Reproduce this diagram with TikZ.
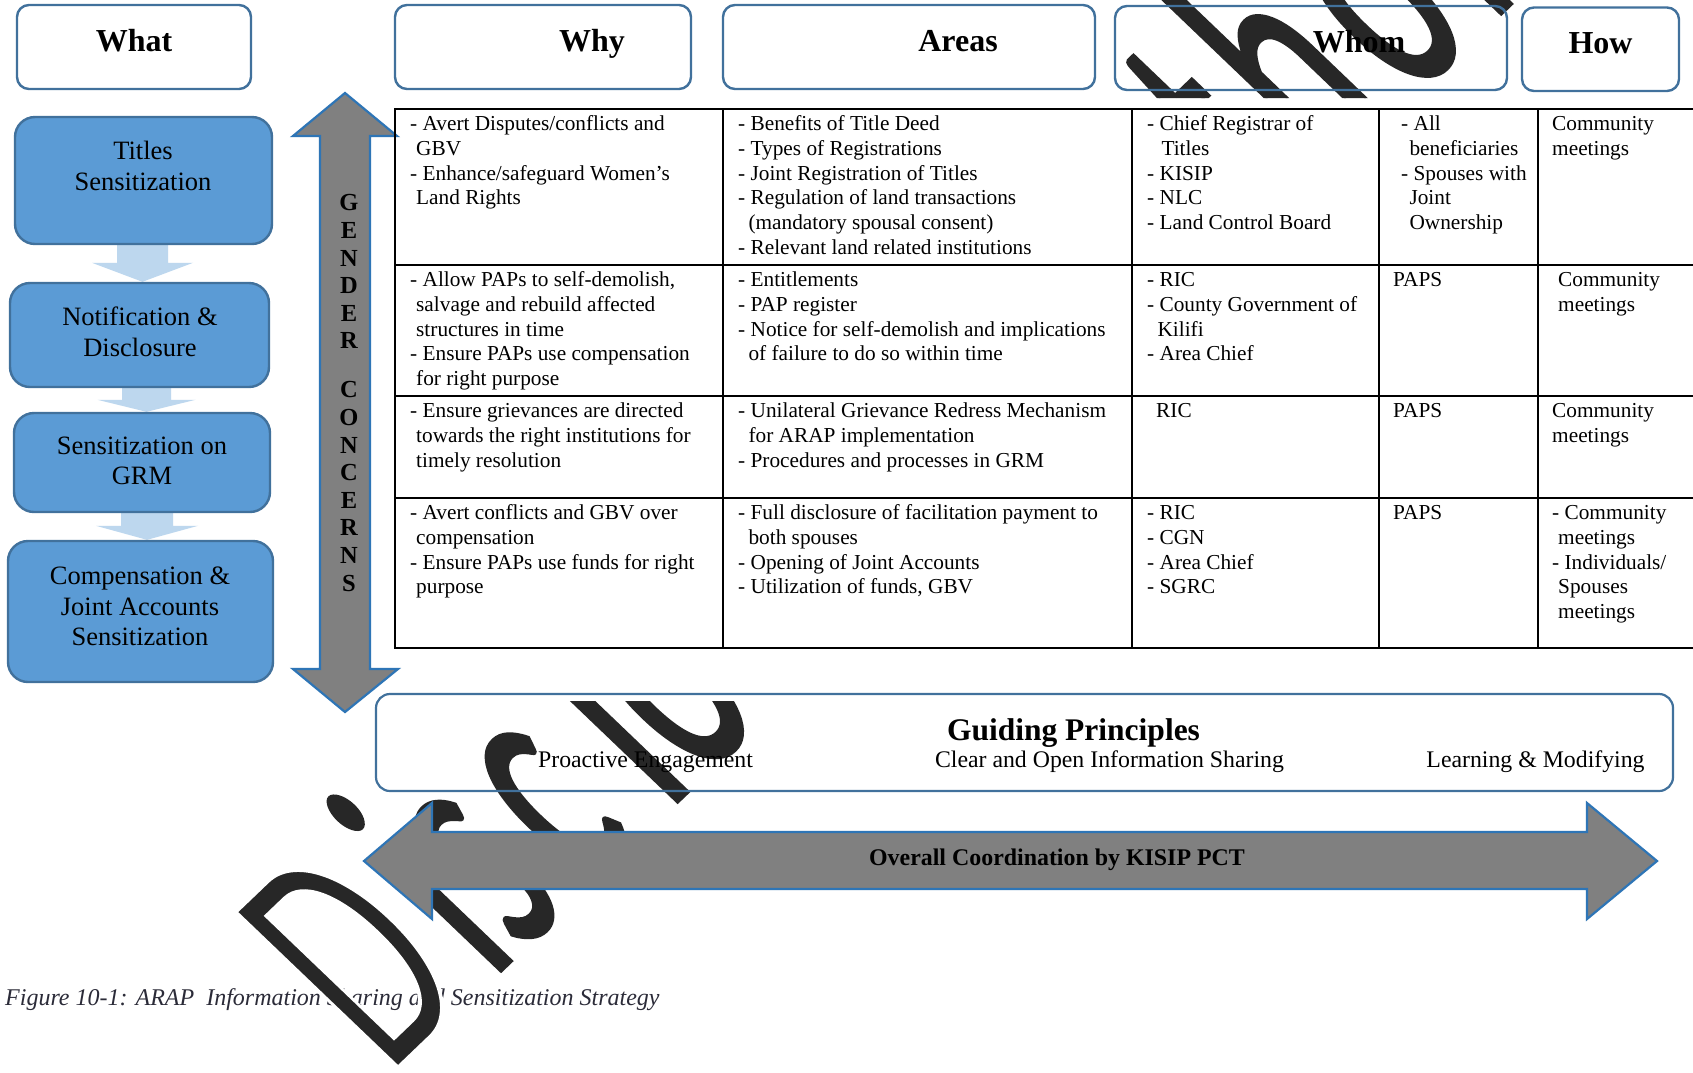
\documentclass[tikz,border=0pt]{standalone}
\usepackage{fontspec}
\usepackage{graphicx}
\setmainfont{Liberation Serif}
\newfontfamily\wmfont{Carlito}
\usetikzlibrary{calc}
\pgfdeclarelayer{bg}
\pgfsetlayers{bg,main}

\definecolor{boxfill}{HTML}{5B9BD5}
\definecolor{boxline}{HTML}{41719C}
\definecolor{flowblue}{HTML}{BDD7EE}
\definecolor{arrowgray}{HTML}{808080}
\definecolor{arrowline}{HTML}{2E75B6}
\definecolor{captioncol}{HTML}{2B2B38}
\definecolor{wmcol}{HTML}{272727}

\newcommand\fs[2]{\fontsize{#1}{#2}\selectfont}
% strut fixing the first baseline of every table cell
\newcommand\fl{\rule{0pt}{17pt}}
% hanging indent of continuation lines
\newcommand\ci[1][6]{\hspace*{#1pt}}
% one condensed watermark letter followed by extra spacing
\newcommand\wk[3][0.5]{\scalebox{#1}[1]{#2}\kern#3pt}
% thin the watermark glyphs: fill dark, stroke the outline in white
\newcommand\thinon{\special{pdf:literal direct 1 1 1 RG 2 Tr 5 w}}
\newcommand\thinoff{\special{pdf:literal direct 0 Tr}}
% light blue block arrow from one flow box down to the next
% #1 from, #2 to, #3 x offset, #4 half shaft, #5 half head, #6 head length
\newcommand\blockdown[6]{%
  \path ($(#1.south)+(#3,0)$) coordinate (bt) (bt |- #2.north) coordinate (bp);
  \fill[flowblue] ($(bt)+(-#4,0)$) -- ($(bp)+(-#4,-#6)$) -- ($(bp)+(-#5,-#6)$)
    -- (bp) -- ($(bp)+(#5,-#6)$) -- ($(bp)+(#4,-#6)$) -- ($(bt)+(#4,0)$) -- cycle;
}

\begin{document}
\begin{tikzpicture}[x=1pt,y=-1pt,
  header/.style={draw=boxline, line width=2.4pt, rounded corners=12pt, inner sep=0pt,
    font=\fs{32}{38}\bfseries, text height=22pt, text depth=14pt},
  flowbox/.style={draw=boxline, fill=boxfill, line width=2.4pt, rounded corners=20pt, inner sep=0pt},
  flowtext/.style={inner sep=0pt, align=center, font=\fs{26.5}{30.5}},
  bigarrow/.style={draw=arrowline, fill=arrowgray, line width=2.2pt, line join=miter},
  tableline/.style={line width=2.4pt, black},
  cell/.style={anchor=north west, inner sep=0pt, align=left, font=\fs{21.3}{24.7}},
  principle/.style={anchor=base, inner sep=0pt, font=\fs{23.8}{28}},
  wm/.style={inner sep=0pt, text=wmcol, font=\wmfont\fs{360}{360}}
]
\useasboundingbox (0,0) rectangle (1693,1072);

% ---------- page, caption and watermark (bottom layer) ----------
\begin{pgfonlayer}{bg}
\fill[white] (0,0) rectangle (1693,1072);
\node[anchor=base west, inner sep=0pt, font=\fs{24}{28}\itshape, text=captioncol] (cap)
  at (5,1005) {Figure 10-1: ARAP\ \ Information Sharing and Sensitization Strategy};
\begin{scope}
  \clip (0,0) rectangle (1693,98) (0,701) rectangle (1693,1072);
  \node[wm, yscale=0.957, rotate=45, anchor=base west] (wmark) at (389,1077)
    {\thinon\wk[0.56]{D}{20}\wk{i}{0}\wk{s}{22}\wk{c}{40}\wk{l}{3}\wk{o}{20}\wk{s}{20}\wk{u}{20}\wk{r}{20}\wk{e}{20}%
     \kern61pt\wk{A}{20}\wk{u}{20}\wk{t}{20}\wk{h}{20}\wk{o}{20}\wk{r}{20}\wk{i}{20}\wk{z}{20}\wk{e}{20}\wk{d}{0}\thinoff};
\end{scope}
\end{pgfonlayer}

% ---------- column headers ----------
\node[header, minimum width=234pt, minimum height=84pt] (what) at (134,47) {What};
\node[header, minimum width=296pt, minimum height=84pt] (why) at (543,47) {\hspace*{98pt}Why};
\node[header, minimum width=372pt, minimum height=84pt] (areas) at (909,47) {\hspace*{98pt}Areas};
\node[header, minimum width=392pt, minimum height=84pt] (whom) at (1311,48) {\hspace*{96pt}Whom};
\node[header, minimum width=157pt, minimum height=83.5pt] (how) at (1600.5,49.25) {How};

% ---------- "What" flow ----------
\node[flowbox, minimum width=257pt, minimum height=127pt] (t1) at (143.5,180.5) {};
\node[flowbox, minimum width=259pt, minimum height=104pt] (t2) at (139.5,335) {};
\node[flowbox, minimum width=256pt, minimum height=99pt] (t3) at (142,462.5) {};
\node[flowbox, minimum width=265pt, minimum height=141pt] (t4) at (140.5,611.5) {};
\begin{pgfonlayer}{bg}
  \blockdown{t1}{t2}{-1}{25.5}{50.5}{19}
  \blockdown{t2}{t3}{7}{24.5}{49}{12}
  \blockdown{t3}{t4}{5}{26}{51}{14}
\end{pgfonlayer}
\node[flowtext] (t1text) at (143,166) {Titles\\Sensitization};
\node[flowtext] (t2text) at (140,332) {Notification \&\\Disclosure};
\node[flowtext] (t3text) at (142,461) {Sensitization on\\GRM};
\node[flowtext] (t4text) at (140,606.5) {Compensation \&\\Joint Accounts\\Sensitization};

% ---------- gender concerns double arrow ----------
\draw[bigarrow] (345,93) -- (397,136) -- (370,136) -- (370,669) -- (398,669) -- (345,712)
  -- (293,669) -- (320,669) -- (320,136) -- (293,136) -- cycle;
\node[anchor=north, inner sep=0pt, align=center, font=\fs{24.5}{27.6}\bfseries] (gender)
  at (349,194.5) {G\\E\\N\\D\\E\\R\\[21.4pt]C\\O\\N\\C\\E\\R\\N\\S};

% ---------- table ----------
\draw[tableline] (1693,109) -- (395,109) -- (395,648) -- (1693,648);
\foreach \r in {265,396,498} \draw[tableline] (395,\r) -- (1693,\r);
\foreach \c in {723,1132,1379,1538} \draw[tableline] (\c,109) -- (\c,648);

% Why
\node[cell] (why1) at (410,113.4) {\fl- Avert Disputes/conflicts and\\\ci GBV\\- Enhance/safeguard Women’s\\\ci Land Rights};
\node[cell] (why2) at (410,269.4) {\fl- Allow PAPs to self-demolish,\\\ci salvage and rebuild affected\\\ci structures in time\\- Ensure PAPs use compensation\\\ci for right purpose};
\node[cell] (why3) at (410,400.4) {\fl- Ensure grievances are directed\\\ci towards the right institutions for\\\ci timely resolution};
\node[cell] (why4) at (410,502.4) {\fl- Avert conflicts and GBV over\\\ci compensation\\- Ensure PAPs use funds for right\\\ci purpose};
% Areas
\node[cell] (area1) at (738,113.4) {\fl- Benefits of Title Deed\\- Types of Registrations\\- Joint Registration of Titles\\- Regulation of land transactions\\\ci[5] (mandatory spousal consent)\\- Relevant land related institutions};
\node[cell] (area2) at (738,269.4) {\fl- Entitlements\\- PAP register\\- Notice for self-demolish and implications\\\ci[5] of failure to do so within time};
\node[cell] (area3) at (738,400.4) {\fl- Unilateral Grievance Redress Mechanism\\\ci[5] for ARAP implementation\\- Procedures and processes in GRM};
\node[cell] (area4) at (738,502.4) {\fl- Full disclosure of facilitation payment to\\\ci[5] both spouses\\- Opening of Joint Accounts\\- Utilization of funds, GBV};
% Whom (institutions)
\node[cell] (inst1) at (1147,113.4) {\fl- Chief Registrar of\\\ci[9] Titles\\- KISIP\\- NLC\\- Land Control Board};
\node[cell] (inst2) at (1147,269.4) {\fl- RIC\\- County Government of\\\ci[5] Kilifi\\- Area Chief};
\node[cell] (inst3) at (1156,400.4) {\fl RIC};
\node[cell] (inst4) at (1147,502.4) {\fl- RIC\\- CGN\\- Area Chief\\- SGRC};
% Whom (audience)
\node[cell] (aud1) at (1401,113.4) {\fl- All\\\ci[3] beneficiaries\\- Spouses with\\\ci[3] Joint\\\ci[3] Ownership};
\node[cell] (aud2) at (1393,269.4) {\fl PAPS};
\node[cell] (aud3) at (1393,400.4) {\fl PAPS};
\node[cell] (aud4) at (1393,502.4) {\fl PAPS};
% How
\node[cell] (how1) at (1552,113.4) {\fl Community\\meetings};
\node[cell] (how2) at (1558,269.4) {\fl Community\\meetings};
\node[cell] (how3) at (1552,400.4) {\fl Community\\meetings};
\node[cell] (how4) at (1552,502.4) {\fl- Community\\\ci meetings\\- Individuals/\\\ci Spouses\\\ci meetings};

% ---------- guiding principles ----------
\node[draw=boxline, line width=2.2pt, rounded corners=14pt, minimum width=1297pt,
  minimum height=97pt, inner sep=0pt] (guide) at (1024.5,742.5) {};
\node[anchor=base, inner sep=0pt, font=\fs{31.5}{36}\bfseries] (gtitle) at (1073.5,740) {Guiding Principles};
\node[principle] (p1) at (645.5,767) {Proactive Engagement};
\node[principle] (p2) at (1109.5,767) {Clear and Open Information Sharing};
\node[principle] (p3) at (1535.5,767) {Learning \& Modifying};

% ---------- overall coordination double arrow ----------
\draw[bigarrow] (364,861) -- (432,803) -- (432,832) -- (1587,832) -- (1587,803) -- (1657,861)
  -- (1587,919) -- (1587,889) -- (432,889) -- (432,919) -- cycle;
\node[anchor=base, inner sep=0pt, font=\fs{23.9}{28}\bfseries] (coord) at (1057,865)
  {Overall Coordination by KISIP PCT};
\end{tikzpicture}
\end{document}
